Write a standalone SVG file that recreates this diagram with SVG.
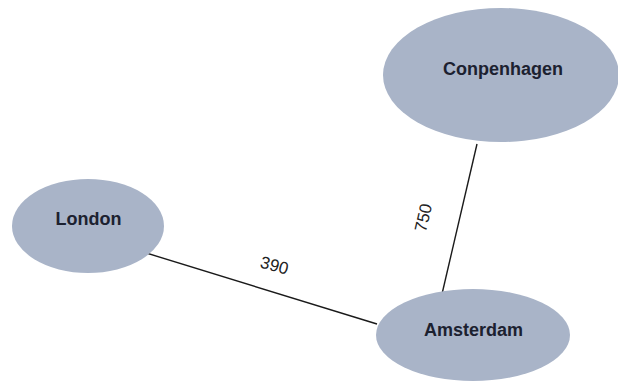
<svg xmlns="http://www.w3.org/2000/svg" width="618" height="383" viewBox="0 0 618 383">
  <style>
    .node { fill: #a9b4c8; }
    .name { font-family: "Liberation Sans", Arial, sans-serif; font-weight: bold; font-size: 18px; fill: #1c2130; text-anchor: middle; }
    .edge { stroke: #1a1a1a; stroke-width: 1.4; fill: none; }
    .lbl { font-family: "Liberation Sans", Arial, sans-serif; font-size: 17px; fill: #222; text-anchor: middle; }
  </style>
  <rect width="618" height="383" fill="#ffffff"/>
  <g id="connectors">
    <line class="edge" x1="143" y1="252" x2="377" y2="324"/>
    <line class="edge" x1="477" y1="144" x2="442" y2="294"/>
    <text class="lbl" transform="translate(273,271) rotate(15)">390</text>
    <text class="lbl" transform="translate(429,219) rotate(-77)">750</text>
  </g>
  <g id="london">
    <ellipse class="node" cx="88" cy="226" rx="76" ry="47"/>
    <text class="name" x="88.5" y="225">London</text>
  </g>
  <g id="copenhagen">
    <ellipse class="node" cx="501" cy="75" rx="118" ry="67"/>
    <text class="name" x="503" y="75">Conpenhagen</text>
  </g>
  <g id="amsterdam">
    <ellipse class="node" cx="473" cy="335" rx="97" ry="46"/>
    <text class="name" x="473.5" y="336">Amsterdam</text>
  </g>
</svg>
